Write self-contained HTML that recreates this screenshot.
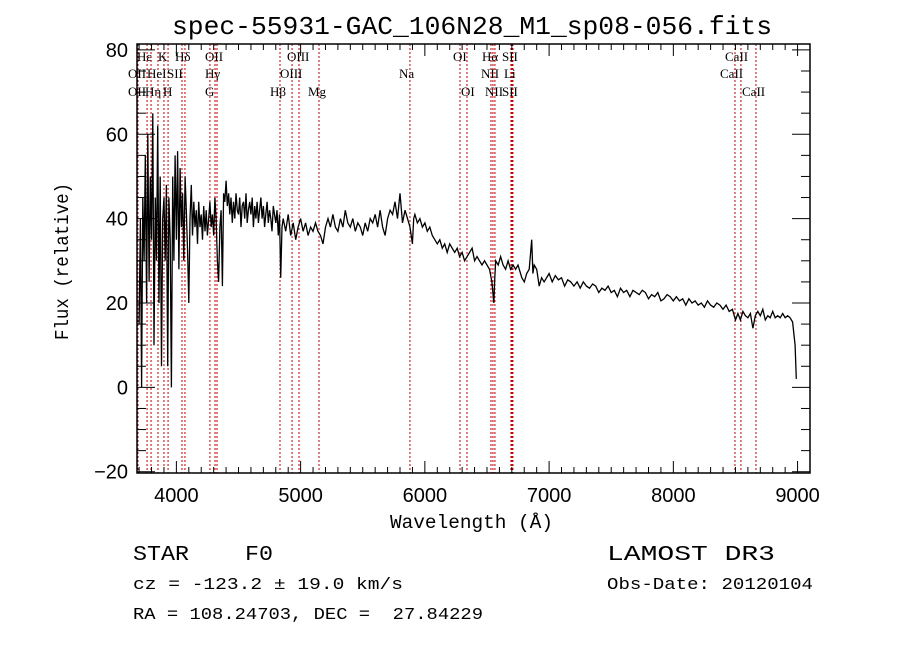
<!DOCTYPE html>
<html><head><meta charset="utf-8"><style>
html,body{margin:0;padding:0;background:#fff;}
svg{display:block;}
text{font-family:"Liberation Mono",monospace;fill:#000;white-space:pre;}
.ser{font-family:"Liberation Serif",serif;font-size:13px;}
.tick{font-family:"Liberation Sans",sans-serif;font-size:20px;}
</style></head><body>
<svg id="chart" width="900" height="649" viewBox="0 0 900 649" xmlns="http://www.w3.org/2000/svg" xml:space="preserve">
<rect width="900" height="649" fill="#fff"/>
<text x="172" y="34" font-size="26" textLength="600" lengthAdjust="spacingAndGlyphs">spec-55931-GAC_106N28_M1_sp08-056.fits</text>
<text x="390" y="528" font-size="19" textLength="163" lengthAdjust="spacingAndGlyphs">Wavelength (Å)</text>
<text transform="translate(68,340) rotate(-90)" font-size="19" textLength="157" lengthAdjust="spacingAndGlyphs">Flux (relative)</text>
<text x="133" y="560" font-size="21" textLength="140" lengthAdjust="spacingAndGlyphs">STAR    F0</text>
<text x="607" y="560" font-size="21" textLength="168" lengthAdjust="spacingAndGlyphs">LAMOST DR3</text>
<text x="133" y="589" font-size="17" textLength="270" lengthAdjust="spacingAndGlyphs">cz = -123.2 ± 19.0 km/s</text>
<text x="607" y="589" font-size="17" textLength="206" lengthAdjust="spacingAndGlyphs">Obs-Date: 20120104</text>
<text x="133" y="619" font-size="17" textLength="350" lengthAdjust="spacingAndGlyphs">RA = 108.24703, DEC =  27.84229</text>
<g id="lines"></g>
<g id="labels"></g>
<g id="spec"></g>
<g id="axes"></g>
</svg>
<script>
const waves=[3700,3710,3720,3730,3740,3750,3760,3770,3780,3790,3800,3810,3820,3830,3840,3850,3860,3870,3880,3890,3900,3910,3920,3930,3940,3950,3960,3970,3980,3990,4000,4010,4020,4030,4040,4050,4060,4070,4080,4090,4100,4110,4120,4130,4140,4150,4160,4170,4180,4190,4200,4210,4220,4230,4240,4250,4260,4270,4280,4290,4300,4310,4320,4330,4340,4350,4360,4370,4380,4390,
4400,4410,4420,4430,4440,4450,4460,4470,4480,4490,4500,4510,4520,4530,4540,4550,4560,4570,4580,4590,4600,4610,4620,4630,4640,4650,4660,4670,4680,4690,4700,4710,4720,4730,4740,4750,4760,4770,4780,4790,4800,4810,4820,4830,4840,4850,4860,
4880,4900,4920,4940,4960,4980,5000,5020,5040,5060,5080,5100,5120,5140,5160,5180,5200,5220,5240,5260,5280,5300,5320,5340,5360,5380,5400,5420,5440,5460,5480,5500,5520,5540,5560,5580,5600,5620,5640,5660,5680,5700,5720,5740,5760,5780,5800,5820,5840,5860,5880,5900,5910,5920,5940,5960,5980,6000,6020,6040,6060,6080,6100,6120,6140,6160,6180,6200,6220,6240,6260,6280,6300,6320,6340,6360,6380,6400,6420,6440,6460,6480,6500,6520,6540,6555,6563,6570,6590,6610,6630,6650,6670,6690,6710,6730,6750,6780,6800,6820,6840,6860,6870,6880,6900,6920,6940,6960,6980,
7000,7025,7050,7075,7100,7125,7150,7175,7200,7225,7250,7275,7300,7325,7350,7375,7400,7425,7450,7475,7500,7525,7550,7575,7600,7625,7650,7675,7700,7725,7750,7775,7800,7825,7850,7875,7900,7925,7950,7975,8000,8025,8050,8075,8100,8125,8150,8175,8200,8225,8250,8275,8300,8325,8350,8375,8400,8425,8450,8475,8500,8520,8540,8560,8580,8600,8620,8640,8660,8680,8700,8720,8740,8760,8780,8800,8820,8840,8860,8880,8900,8920,8940,8960,8980,8990,9000];
const flux=[15,40,0,45,30,55,20,60,25,50,35,65,10,45,30,62,20,50,5,40,45,30,48,5,45,35,0,50,30,55,35,56,28,52,38,46,30,50,42,32,20,40,48,36,44,38,42,34,44,38,41,35,43,37,42,36,40,44,38,41,36,45,40,30,25,38,42,24,46,44,
49,43,46,41,45,39,44,40,46,42,41,45,38,43,44,40,46,39,42,44,41,45,38,43,40,44,39,42,45,40,43,38,41,44,39,42,40,37,43,41,39,42,36,41,26,38,40,
37,41,36,39,35,38,40,37,39,36,38,37,39,37,36,34,38,40,38,41,38,37,40,38,42,39,38,40,37,39,38,36,39,37,40,39,41,38,42,38,36,40,42,41,44,40,46,39,42,40,38,34,40,41,39,40,38,39,37,38,36,35,34,35,33,34,32,34,33,32,33,31,32,30,31,32,33,30,31,30,29,30,29,28,25,20,26,30,29,31,29,28,30,28,29,28,29,26,25,27,28,35,27,29,28,24,26,25,
26,27,25,26.5,25.5,26,24,25.5,25,24,25,23.5,25,24,23.5,24.5,24,22.5,23.5,23,24,22.5,23,21.5,23.5,22.5,23,21.5,23,22.5,22,23,22.5,21,22,21.5,22.5,20.5,21,22,21.5,20.5,21.5,20.5,21,19.5,21,20,20.5,19.5,20,19,20.5,19.5,19,20,19.5,18.5,19.5,18,18.5,16,17.5,16,18,17,16.5,17.5,14,17,18,17,18.5,16,17,16.5,18,16.5,17,16.5,17.5,16.5,17,16.5,15.5,10,2];
const lineWaves=[3691,3764,3796,3852,3900,3933,4045,4069,4270,4311,4327,4834,4931,4987,5148,5880,6283,6339,6532,6548,6564,6693,6701,6709,8496,8544,8665];
const xTicks=[4000,5000,6000,7000,8000,9000];
const yTicks=[-20,0,20,40,60,80];
const X0=3683,X1=9100,Y0=-20.3,Y1=81.4;
const L=137,R=810,T=44,B=473;
const NS="http://www.w3.org/2000/svg";
function sx(w){return L+(w-X0)/(X1-X0)*(R-L);}
function sy(v){return B-(v-Y0)/(Y1-Y0)*(B-T);}
function mk(tag,attrs,parent){const e=document.createElementNS(NS,tag);for(const k in attrs)e.setAttribute(k,attrs[k]);parent.appendChild(e);return e;}
const gl=document.getElementById('lines');
lineWaves.forEach(w=>{const e=mk('line',{x1:sx(w),x2:sx(w),y1:T,y2:B,stroke:'#c00000','stroke-width':1,'stroke-dasharray':'2,2'},gl);

});
const labels=[["Hε",137,57],["K",158,57],["Hδ",175,57],["OII",205,57],["OIII",287,57],["OI",453,57],["Hα",482,57],["SII",502,57],["CaII",725,57],
["OII",128,74],["HeI",147,74],["SII",167,74],["Hγ",205,74],["OIII",280,74],["Na",399,74],["NII",481,74],["Li",504,74],["CaII",720,74],
["OII",128,92],["Hη",145,92],["H",163,92],["G",205,92],["Hβ",270,92],["Mg",308,92],["OI",461,92],["NII",485,92],["SII",502,92],["CaII",742,92]];
const glb=document.getElementById('labels');
labels.forEach(a=>{const t=mk('text',{x:a[1],y:a[2]+4,class:'ser'},glb);t.textContent=a[0];

});
const gs=document.getElementById('spec');
let d='';waves.forEach((w,i)=>{d+=(i?'L':'M')+sx(w).toFixed(1)+','+sy(flux[i]).toFixed(1);});
const p=mk('path',{d:d,fill:'none',stroke:'#000','stroke-width':1.3},gs);


const ga=document.getElementById('axes');
const fr=mk('rect',{x:L,y:T,width:R-L,height:B-T,fill:'none',stroke:'#000','stroke-width':1.5},ga);


for(let w=3700;w<=9100;w+=100){const major=w%1000===0;const h=major?12:6;
mk('line',{x1:sx(w),x2:sx(w),y1:B,y2:B-h,stroke:'#000'},ga);mk('line',{x1:sx(w),x2:sx(w),y1:T,y2:T+h,stroke:'#000'},ga);}
xTicks.forEach(w=>{const t=mk('text',{x:sx(w),y:B+29,'text-anchor':'middle',class:'tick'},ga);t.textContent=w;

});
for(let v=-20;v<=80;v+=5){const major=v%20===0;const h=major?18:9;
mk('line',{x1:L,x2:L+h,y1:sy(v),y2:sy(v),stroke:'#000'},ga);mk('line',{x1:R,x2:R-h,y1:sy(v),y2:sy(v),stroke:'#000'},ga);}
yTicks.forEach(v=>{const t=mk('text',{x:128,y:sy(v)+7,'text-anchor':'end',class:'tick'},ga);t.textContent=v<0?'\u2212'+(-v):v;

});
</script>
</body></html>
